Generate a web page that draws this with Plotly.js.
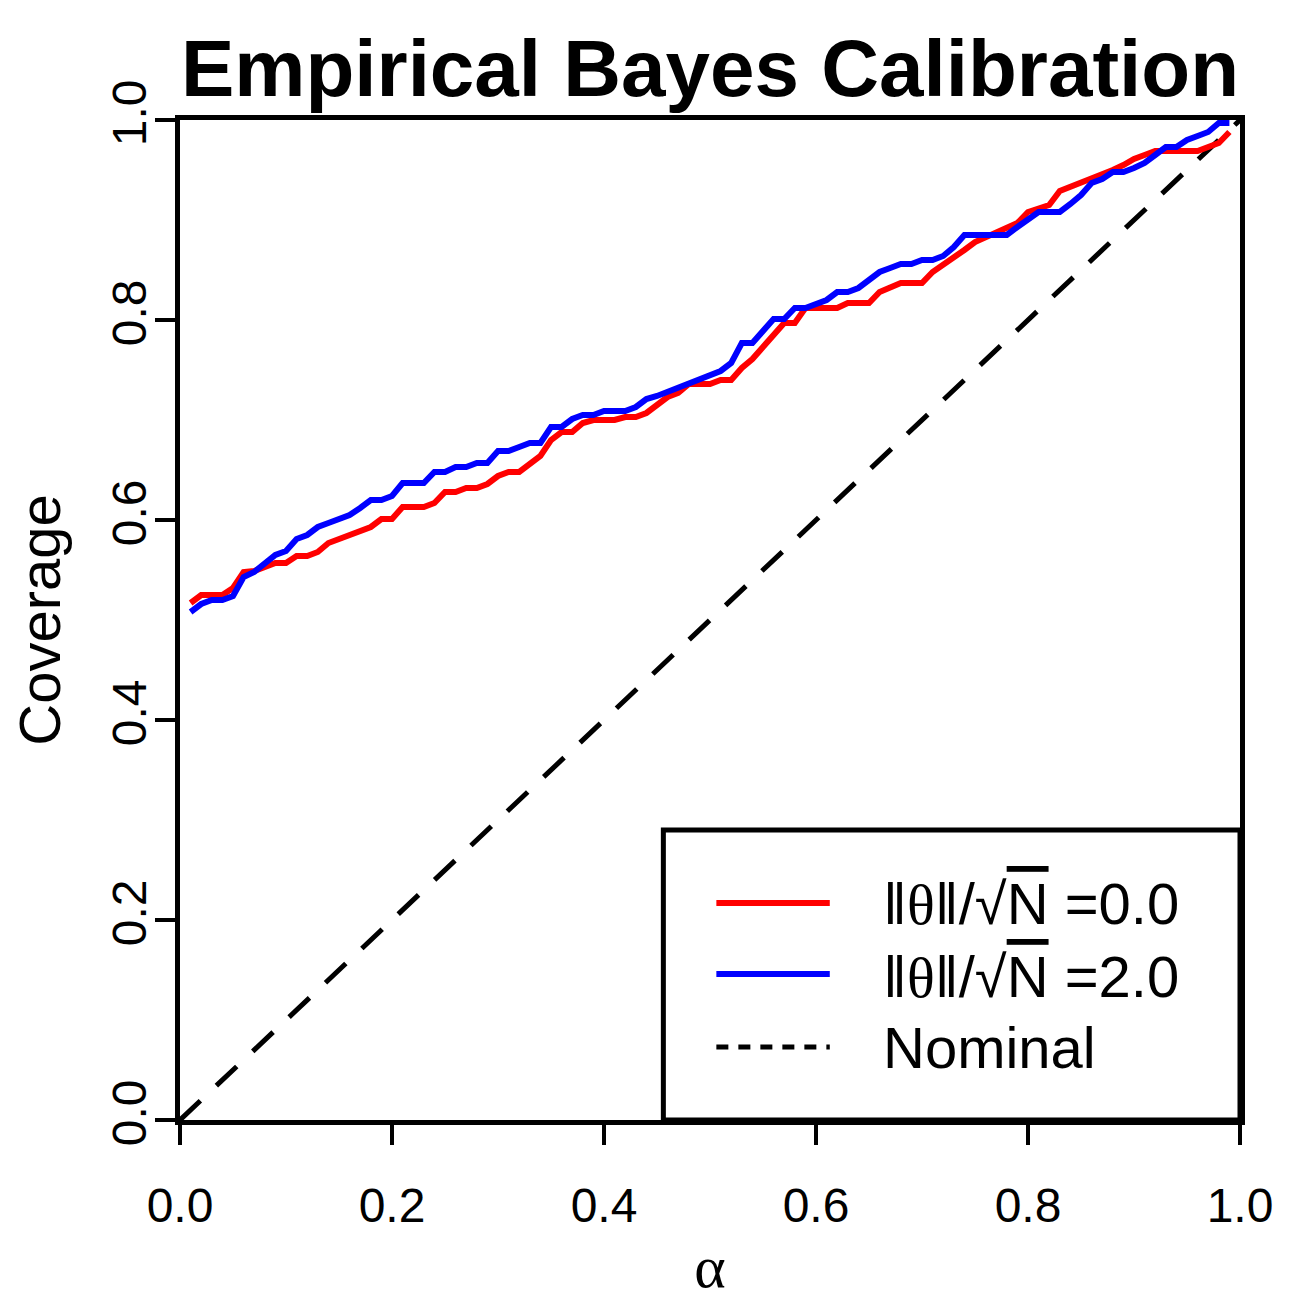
<!DOCTYPE html>
<html>
<head>
<meta charset="utf-8">
<script src="https://cdn.plot.ly/plotly-3.0.1.min.js"></script>
<style>
  body { margin: 0; background: #ffffff; }
  #chart { width: 1300px; height: 1300px; }
</style>
</head>
<body>
<div id="chart"></div>
<script>
// alpha grid (nominal level)
var alpha = [0.01,0.02,0.03,0.04,0.05,0.06,0.07,0.08,0.09,0.10,
             0.11,0.12,0.13,0.14,0.15,0.16,0.17,0.18,0.19,0.20,
             0.21,0.22,0.23,0.24,0.25,0.26,0.27,0.28,0.29,0.30,
             0.31,0.32,0.33,0.34,0.35,0.36,0.37,0.38,0.39,0.40,
             0.41,0.42,0.43,0.44,0.45,0.46,0.47,0.48,0.49,0.50,
             0.51,0.52,0.53,0.54,0.55,0.56,0.57,0.58,0.59,0.60,
             0.61,0.62,0.63,0.64,0.65,0.66,0.67,0.68,0.69,0.70,
             0.71,0.72,0.73,0.74,0.75,0.76,0.77,0.78,0.79,0.80,
             0.81,0.82,0.83,0.84,0.85,0.86,0.87,0.88,0.89,0.90,
             0.91,0.92,0.93,0.94,0.95,0.96,0.97,0.98,0.99];

// coverage, ||theta||/sqrt(N) = 0.0
var cov_0 = [0.517,0.525,0.525,0.525,0.532,0.548,0.549,0.553,0.557,0.557,
             0.564,0.564,0.568,0.577,0.581,0.585,0.589,0.593,0.601,0.601,
             0.613,0.613,0.613,0.617,0.628,0.628,0.632,0.632,0.636,0.644,
             0.648,0.648,0.656,0.664,0.680,0.688,0.688,0.697,0.700,0.700,
             0.700,0.703,0.703,0.707,0.715,0.723,0.727,0.736,0.736,0.736,
             0.740,0.740,0.752,0.761,0.773,0.785,0.797,0.797,0.812,0.812,
             0.812,0.812,0.817,0.817,0.817,0.828,0.832,0.837,0.837,0.837,
             0.848,0.855,0.862,0.870,0.878,0.883,0.887,0.892,0.897,0.908,
             0.912,0.915,0.929,0.933,0.937,0.941,0.945,0.950,0.955,0.961,
             0.965,0.969,0.969,0.969,0.969,0.969,0.973,0.977,0.988];

// coverage, ||theta||/sqrt(N) = 2.0
var cov_2 = [0.508,0.516,0.520,0.520,0.524,0.543,0.548,0.556,0.565,0.569,
             0.581,0.585,0.593,0.597,0.601,0.605,0.612,0.620,0.620,0.624,
             0.637,0.637,0.637,0.648,0.648,0.653,0.653,0.657,0.657,0.669,
             0.669,0.673,0.677,0.677,0.693,0.693,0.701,0.705,0.705,0.709,
             0.709,0.709,0.713,0.721,0.724,0.728,0.732,0.737,0.741,0.745,
             0.749,0.757,0.777,0.777,0.789,0.801,0.801,0.812,0.812,0.816,
             0.820,0.828,0.828,0.832,0.840,0.848,0.852,0.856,0.856,0.860,
             0.860,0.864,0.873,0.885,0.885,0.885,0.885,0.885,0.893,0.900,
             0.908,0.908,0.908,0.916,0.925,0.937,0.941,0.948,0.948,0.952,
             0.957,0.965,0.973,0.973,0.980,0.984,0.988,0.997,0.997];

var nominal_x = [0, 1];
var nominal_y = [0, 1];

var tick_vals = [0, 0.2, 0.4, 0.6, 0.8, 1.0];
var tick_text = ['0.0', '0.2', '0.4', '0.6', '0.8', '1.0'];

var norm_part = '‖<span style="font-family:Liberation Serif">θ</span>‖/√' +
    '<span style="text-decoration:overline">N</span>';
var label_0 = norm_part + ' =0.0';
var label_2 = norm_part + ' =2.0';

var font_main = 'Liberation Sans, Arial, Helvetica, sans-serif';

var data = [
    {
        x: nominal_x, y: nominal_y, type: 'scatter', mode: 'lines',
        name: 'Nominal',
        line: { color: '#000000', width: 5, dash: '28px,22px' }
    },
    {
        x: alpha, y: cov_0, type: 'scatter', mode: 'lines',
        name: 'theta0',
        line: { color: '#ff0000', width: 6 }
    },
    {
        x: alpha, y: cov_2, type: 'scatter', mode: 'lines',
        name: 'theta2',
        line: { color: '#0000ff', width: 6 }
    }
];

// hand-drawn legend (R style box with long sample lines)
var shapes = [
    { type: 'rect', xref: 'x', yref: 'y', x0: 0.456, x1: 1.0, y0: 0, y1: 0.29,
      line: { color: '#000000', width: 5 }, fillcolor: '#ffffff', layer: 'below' },
    { type: 'line', xref: 'x', yref: 'y', x0: 0.506, x1: 0.613, y0: 0.217, y1: 0.217,
      line: { color: '#ff0000', width: 6 } },
    { type: 'line', xref: 'x', yref: 'y', x0: 0.506, x1: 0.613, y0: 0.146, y1: 0.146,
      line: { color: '#0000ff', width: 6 } },
    { type: 'line', xref: 'x', yref: 'y', x0: 0.506, x1: 0.613, y0: 0.073, y1: 0.073,
      line: { color: '#000000', width: 5, dash: '12px,10px' } }
];

var annotations = [
    { text: label_0, xref: 'x', yref: 'y', x: 0.661, y: 0.216, xanchor: 'left', yanchor: 'middle',
      showarrow: false, font: { family: font_main, size: 58, color: '#000000' } },
    { text: label_2, xref: 'x', yref: 'y', x: 0.661, y: 0.143, xanchor: 'left', yanchor: 'middle',
      showarrow: false, font: { family: font_main, size: 58, color: '#000000' } },
    { text: 'Nominal', xref: 'x', yref: 'y', x: 0.661, y: 0.073, xanchor: 'left', yanchor: 'middle',
      showarrow: false, font: { family: font_main, size: 58, color: '#000000' } }
];

var layout = {
    width: 1300,
    height: 1300,
    paper_bgcolor: '#ffffff',
    plot_bgcolor: '#ffffff',
    showlegend: false,
    margin: { l: 180, r: 60, t: 120, b: 180 },
    font: { family: font_main, color: '#000000' },
    title: {
        text: '<b>Empirical Bayes Calibration</b>',
        font: { family: font_main, size: 80, color: '#000000' },
        x: 0.5, xref: 'paper', xanchor: 'center',
        y: 0.948, yref: 'container', yanchor: 'middle'
    },
    xaxis: {
        range: [0, 1],
        tickvals: tick_vals,
        ticktext: tick_text,
        tickfont: { family: font_main, size: 48, color: '#000000' },
        ticks: 'outside', ticklen: 20, tickwidth: 4, tickcolor: '#000000',
        ticklabelstandoff: 19,
        showline: true, linewidth: 5, linecolor: '#000000', mirror: true,
        showgrid: false, zeroline: false,
        title: {
            text: 'α',
            font: { family: 'Liberation Serif', size: 60, color: '#000000' },
            standoff: 24
        }
    },
    yaxis: {
        range: [0, 1],
        tickvals: tick_vals,
        ticktext: tick_text,
        tickangle: -90,
        tickfont: { family: font_main, size: 48, color: '#000000' },
        ticks: 'outside', ticklen: 20, tickwidth: 4, tickcolor: '#000000',
        ticklabelstandoff: -10,
        showline: true, linewidth: 5, linecolor: '#000000', mirror: true,
        showgrid: false, zeroline: false,
        title: {
            text: 'Coverage',
            font: { family: font_main, size: 58, color: '#000000' },
            standoff: 25
        }
    },
    shapes: shapes,
    annotations: annotations
};

var config = { staticPlot: true };
Plotly.newPlot('chart', data, layout, config);
</script>
</body>
</html>
